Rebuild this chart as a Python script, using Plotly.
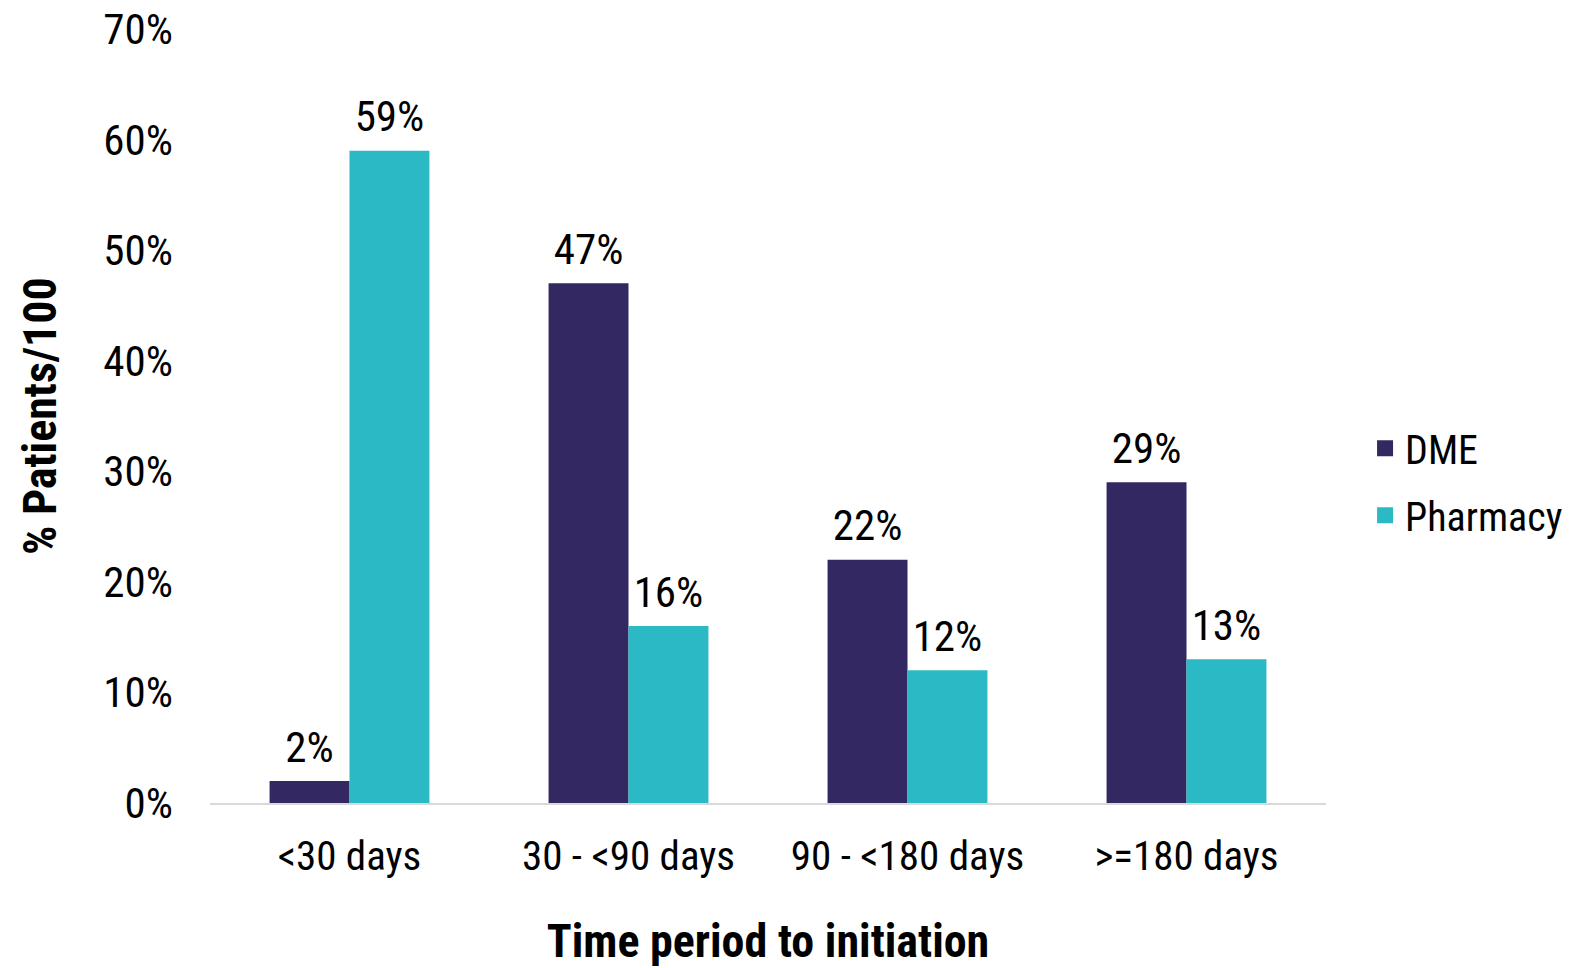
import plotly.graph_objects as go

categories = ["<30 days", "30 - <90 days", "90 - <180 days", ">=180 days"]
dme = [2, 47, 22, 29]
pharmacy = [59, 16, 12, 13]
y_ticks = [0, 10, 20, 30, 40, 50, 60, 70]
y_tick_labels = [f"{v}%" for v in y_ticks]

FONT = "Roboto Condensed, Liberation Sans Narrow, Arial Narrow, Liberation Sans, sans-serif"
C_DME = "#332862"
C_PH = "#2BBAC5"

fig = go.Figure()
for name, vals, col, grp in [("DME", dme, C_DME, "a"), ("Pharmacy", pharmacy, C_PH, "b")]:
    fig.add_trace(go.Bar(
        name=name, x=categories, y=vals, marker_color=col, marker_line_width=0,
        offsetgroup=grp, showlegend=False,
    ))
for name, vals, col, grp in [("DME", dme, C_DME, "a"), ("Pharmacy", pharmacy, C_PH, "b")]:
    fig.add_trace(go.Scatter(
        x=categories, y=vals, mode="markers+text", offsetgroup=grp,
        text=[f"{v}%" for v in vals], textposition="top center",
        textfont=dict(size=43, color="#000000", family=FONT),
        marker=dict(size=12, opacity=0), showlegend=False, hoverinfo="skip",
        cliponaxis=False,
    ))
for name, col, grp in [("DME", C_DME, "a"), ("Pharmacy", C_PH, "b")]:
    fig.add_trace(go.Scatter(
        x=[None], y=[None], mode="markers", name=name, offsetgroup=grp,
        legendgroup=name,
        marker=dict(symbol="square", size=20, color=col),
    ))

fig.update_layout(
    width=1570, height=968,
    margin=dict(l=210, r=244, t=29, b=165, autoexpand=False),
    paper_bgcolor="white", plot_bgcolor="white",
    barmode="group", bargap=0.427, bargroupgap=0,
    scattermode="group", scattergap=0.427,
    font=dict(family=FONT, size=40, color="#000000"),
    showlegend=True,
    legend=dict(x=1.035, y=0.415, xanchor="left", yanchor="middle",
                font=dict(size=40, family=FONT), itemwidth=30,
                tracegroupgap=12),
    xaxis=dict(
        showgrid=False, showline=True, linecolor="#D9D9D9", linewidth=2,
        ticks="", tickfont=dict(size=41), ticklabelstandoff=16,
        title=dict(text="<b>Time period to initiation</b>", font=dict(size=46), standoff=54),
    ),
    yaxis=dict(
        range=[0, 70], tickvals=y_ticks, ticktext=y_tick_labels,
        showgrid=False, zeroline=False, showline=False, ticks="",
        tickfont=dict(size=43), ticklabelstandoff=36,
    ),
    annotations=[dict(
        text="<b>% Patients/100</b>", textangle=-90, showarrow=False,
        xref="paper", yref="paper", x=-0.1523, y=0.5,
        xanchor="center", yanchor="middle",
        font=dict(size=46, family=FONT, color="#000000"),
    )],
)

fig.write_html("out.html")
